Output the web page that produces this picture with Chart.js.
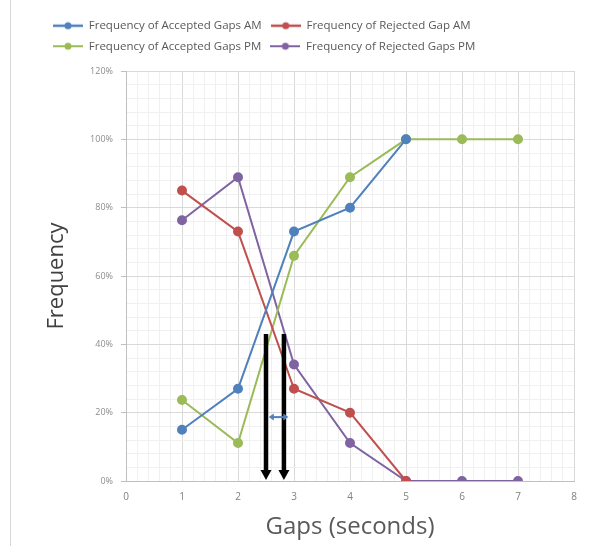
<!DOCTYPE html>
<html>
<head>
<meta charset="utf-8">
<script src="https://cdn.jsdelivr.net/npm/chart.js@4.4.1/dist/chart.umd.min.js"></script>
<style>
  html, body { margin: 0; padding: 0; background: #fff; }
  #wrap { position: relative; width: 594px; height: 546px; }
  #edge { position: absolute; left: 10px; top: 0; width: 1px; height: 546px; background: #d6d6d6; }
  canvas { position: absolute; left: 0; top: 0; }
</style>
</head>
<body>
<div id="wrap">
  <div id="edge"></div>
  <canvas id="chart-gaps" width="594" height="546"></canvas>
</div>
<script>
var gaps = [1, 2, 3, 4, 5, 6, 7];
var acceptedAM = [15, 27, 73, 80, 100];
var rejectedAM = [85, 73, 27, 20, 0];
var acceptedPM = [23.7, 11.1, 65.9, 88.9, 100, 100, 100];
var rejectedPM = [76.3, 88.9, 34.1, 11.1, 0, 0, 0];
var seriesNames = ['Frequency of Accepted Gaps AM', 'Frequency of Rejected Gap AM',
                   'Frequency of Accepted Gaps PM', 'Frequency of Rejected Gaps PM'];
var seriesColors = ['#4F81BD', '#C0504D', '#9BBB59', '#8064A2'];

// the two hand-drawn critical gap arrows and the small span marker between them
var arrowGaps = [2.5, 2.82];
var arrowLevels = [43, 0];
var spanGaps = [2.55, 2.9];
var spanLevel = 18.7;

function points(values) {
    return values.map(function(v, i) { return {x: gaps[i], y: v}; });
}

function legendSwatch(color, lw) {
    var c = document.createElement('canvas');
    c.width = 30; c.height = 10;
    var g = c.getContext('2d');
    g.strokeStyle = color; g.lineWidth = lw;
    g.beginPath(); g.moveTo(0, 5); g.lineTo(30, 5); g.stroke();
    g.fillStyle = color;
    g.beginPath(); g.arc(15, 5, 3.5, 0, Math.PI * 2); g.fill();
    return c;
}

var isMajorX = function(v) { return Math.abs(v - Math.round(v)) < 1e-6; };
var isMajorY = function(v) { return Math.round(v) % 20 === 0; };

// leave a bit more room under the legend, like the original
var legendGap = {
    id: 'legendGap',
    beforeLayout: function(chart) {
        var lg = chart.legend;
        if (lg && !lg._patched) {
            var fit = lg.fit;
            lg.fit = function() { fit.call(this); this.height += 9; };
            lg._patched = true;
        }
    }
};

var arrows = {
    id: 'arrows',
    afterDatasetsDraw: function(chart) {
        var ctx = chart.ctx, xs = chart.scales.x, ys = chart.scales.y;
        var yTop = ys.getPixelForValue(arrowLevels[0]);
        var yBot = ys.getPixelForValue(arrowLevels[1]);
        ctx.save();
        arrowGaps.forEach(function(g) {
            var px = xs.getPixelForValue(g);
            ctx.strokeStyle = '#000'; ctx.lineWidth = 4.5;
            ctx.beginPath(); ctx.moveTo(px, yTop); ctx.lineTo(px, yBot - 8); ctx.stroke();
            ctx.fillStyle = '#000';
            ctx.beginPath(); ctx.moveTo(px - 5.5, yBot - 11); ctx.lineTo(px + 5.5, yBot - 11); ctx.lineTo(px, yBot - 1); ctx.closePath(); ctx.fill();
        });
        var sy = ys.getPixelForValue(spanLevel);
        var x1 = xs.getPixelForValue(spanGaps[0]), x2 = xs.getPixelForValue(spanGaps[1]);
        ctx.strokeStyle = '#4F81BD'; ctx.fillStyle = '#4F81BD'; ctx.lineWidth = 2;
        ctx.beginPath(); ctx.moveTo(x1 + 3, sy); ctx.lineTo(x2 - 3, sy); ctx.stroke();
        ctx.beginPath(); ctx.moveTo(x1, sy); ctx.lineTo(x1 + 5, sy - 3.5); ctx.lineTo(x1 + 5, sy + 3.5); ctx.closePath(); ctx.fill();
        ctx.beginPath(); ctx.moveTo(x2, sy); ctx.lineTo(x2 - 5, sy - 3.5); ctx.lineTo(x2 - 5, sy + 3.5); ctx.closePath(); ctx.fill();
        ctx.restore();
    }
};

var allSeries = [acceptedAM, rejectedAM, acceptedPM, rejectedPM];
var lineWidths = [2.5, 2.5, 2, 2];

var config = {
    type: 'line',
    data: {
        datasets: allSeries.map(function(vals, i) {
            return {
                label: seriesNames[i],
                data: points(vals),
                borderColor: seriesColors[i],
                backgroundColor: seriesColors[i],
                borderWidth: 2,
                pointRadius: 4,
                pointHoverRadius: 4,
                tension: 0
            };
        })
    },
    options: {
        responsive: false,
        animation: false,
        layout: { padding: { left: 44, right: 20, top: 11, bottom: 0 } },
        plugins: {
            tooltip: { enabled: false },
            legend: {
                position: 'top',
                align: 'start',
                labels: {
                    usePointStyle: true,
                    pointStyleWidth: 30,
                    padding: 9,
                    color: '#595959',
                    font: { family: 'Open Sans', size: 11.5 },
                    generateLabels: function(chart) {
                        return chart.data.datasets.map(function(ds, i) {
                            return {
                                text: ds.label,
                                fillStyle: ds.borderColor,
                                strokeStyle: ds.borderColor,
                                lineWidth: 0,
                                pointStyle: legendSwatch(ds.borderColor, lineWidths[i]),
                                fontColor: '#595959',
                                hidden: false,
                                datasetIndex: i
                            };
                        });
                    }
                }
            }
        },
        scales: {
            x: {
                type: 'linear',
                min: 0, max: 8,
                afterFit: function(s) { s.height = 65; },
                ticks: {
                    stepSize: 0.2,
                    autoSkip: false,
                    maxRotation: 0,
                    color: '#7f7f7f',
                    font: { family: 'Open Sans', size: 10 },
                    padding: 6,
                    callback: function(v) { return isMajorX(v) ? Math.round(v) : ''; }
                },
                grid: {
                    color: function(c) { return isMajorX(c.tick.value) ? '#d9d9d9' : '#f0f0f0'; },
                    tickColor: 'rgba(0,0,0,0)',
                    tickLength: 4
                },
                border: { color: '#bfbfbf' },
                title: {
                    display: true,
                    text: 'Gaps (seconds)',
                    color: '#595959',
                    font: { family: 'Open Sans', size: 24 },
                    padding: { top: 0, bottom: 4 }
                }
            },
            y: {
                min: 0, max: 120,
                afterFit: function(s) { s.width = 82; },
                ticks: {
                    stepSize: 4,
                    autoSkip: false,
                    color: '#8c8c8c',
                    font: { family: 'Open Sans', size: 9 },
                    padding: 8,
                    callback: function(v) { return isMajorY(v) ? v + '%' : ''; }
                },
                grid: {
                    color: function(c) { return isMajorY(c.tick.value) ? '#d9d9d9' : '#f0f0f0'; },
                    tickColor: function(c) { return isMajorY(c.tick.value) ? '#bfbfbf' : 'rgba(0,0,0,0)'; },
                    tickLength: 5
                },
                border: { color: '#bfbfbf' },
                title: {
                    display: true,
                    text: 'Frequency',
                    color: '#404040',
                    font: { family: 'Open Sans', size: 22 },
                    padding: { top: 0, bottom: 4 }
                }
            }
        }
    },
    plugins: [legendGap, arrows]
};

window.onload = function() {
    var ctx = document.getElementById('chart-gaps').getContext('2d');
    window.gapChart = new Chart(ctx, config);
};
</script>
</body>
</html>
